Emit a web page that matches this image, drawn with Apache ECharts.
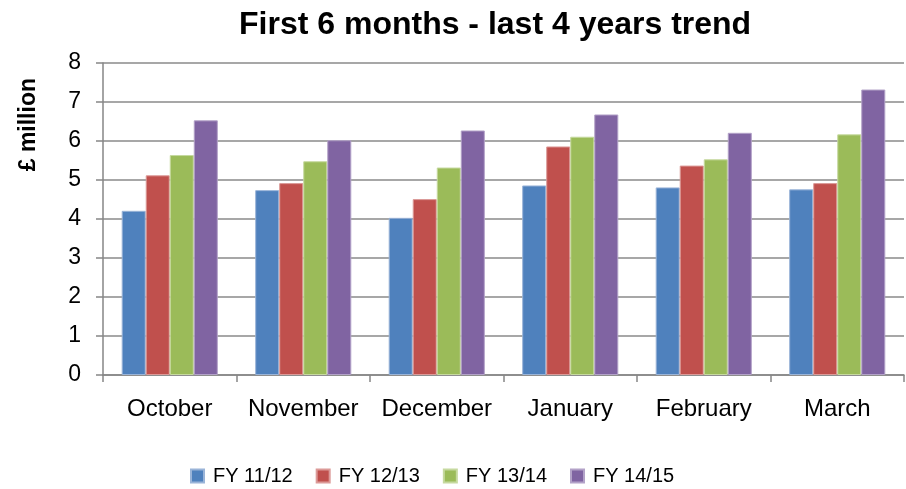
<!DOCTYPE html>
<html>
<head>
<meta charset="utf-8">
<script src="https://cdn.jsdelivr.net/npm/echarts@6/dist/echarts.min.js"></script>
<style>
  html, body { margin: 0; padding: 0; background: #fff; }
  #chart { width: 906px; height: 489px; }
</style>
</head>
<body>
<div id="chart"></div>
<script>
// data
const months = ['October', 'November', 'December', 'January', 'February', 'March'];
const yearNames = ['FY 11/12', 'FY 12/13', 'FY 13/14', 'FY 14/15'];
const fy1112 = [4.21, 4.74, 4.03, 4.86, 4.81, 4.76];
const fy1213 = [5.12, 4.92, 4.51, 5.86, 5.37, 4.92];
const fy1314 = [5.64, 5.48, 5.32, 6.11, 5.53, 6.17];
const fy1415 = [6.53, 6.02, 6.27, 6.68, 6.21, 7.32];
const yTicks = [0, 1, 2, 3, 4, 5, 6, 7, 8];

const colors = ['#4F81BD', '#C0504D', '#9BBB59', '#8064A2'];
const edges = ['#9ab4d8', '#dc9a98', '#c6d99f', '#b3a2c8'];
const allValues = [fy1112, fy1213, fy1314, fy1415];

const chart = echarts.init(document.getElementById('chart'));

chart.setOption({
  animation: false,
  title: {
    text: 'First 6 months - last 4 years trend',
    left: 234,
    top: 4,
    textStyle: { fontFamily: 'Liberation Sans', fontWeight: 'bold', fontSize: 32, color: '#000' }
  },
  graphic: [{
    type: 'text',
    left: 17,
    top: 78,
    rotation: Math.PI / 2,
    style: { text: '£ million', font: 'bold 23px "Liberation Sans"', fill: '#000' }
  }],
  legend: {
    data: yearNames,
    top: 461,
    left: 185,
    itemWidth: 13,
    itemHeight: 13,
    itemGap: 23,
    icon: 'rect',
    textStyle: { fontFamily: 'Liberation Sans', fontSize: 20, color: '#000', padding: [0, 0, 0, 4] }
  },
  grid: { left: 103, right: 2, top: 63, bottom: 114 },
  xAxis: {
    type: 'category',
    data: months,
    axisLine: { lineStyle: { color: '#868686', width: 1.5 } },
    axisTick: { show: true, interval: 0, length: 7, lineStyle: { color: '#868686', width: 1.5 } },
    axisLabel: { interval: 0, fontFamily: 'Liberation Sans', fontSize: 24, color: '#000', margin: 22 }
  },
  yAxis: {
    type: 'value',
    min: yTicks[0],
    max: yTicks[yTicks.length - 1],
    interval: 1,
    axisLine: { show: true, lineStyle: { color: '#868686', width: 1.5 } },
    axisTick: { show: true, length: 7, lineStyle: { color: '#868686', width: 1.5 } },
    axisLabel: { fontFamily: 'Liberation Sans', fontSize: 23, color: '#000', margin: 22 },
    splitLine: { lineStyle: { color: '#8a8a8a', width: 1.6 } }
  },
  series: yearNames.map((name, i) => ({
    name: name,
    type: 'bar',
    data: allValues[i],
    barGap: '0%',
    barCategoryGap: '28%',
    itemStyle: { color: colors[i], borderColor: edges[i], borderWidth: 1 }
  }))
});
</script>
</body>
</html>
